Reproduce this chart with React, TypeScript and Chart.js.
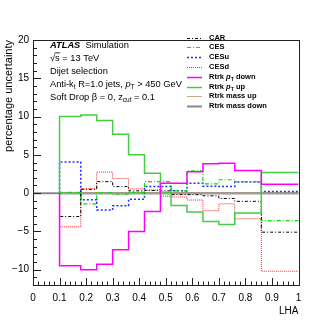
import React, { useEffect, useRef } from "react";
import { Chart, registerables } from "chart.js";
Chart.register(...registerables);

// ---- data ----
const binEdges = [0.1, 0.18, 0.24, 0.3, 0.36, 0.42, 0.48, 0.52, 0.58, 0.64, 0.7, 0.76, 0.86, 1.0];
const carValues = [-3.05, 0.5, 1.5, 0.85, 0.3, 0.35, 0.3, -0.2, -0.2, -0.35, -0.7, -1.07, -5.1];
const cesValues = [0.1, -1.4, 0.05, -0.15, 0.1, 1.5, 1.5, 0.3, 2.9, 1.2, 1.75, 1.5, -3.6];
const cesuValues = [4.05, -0.87, -2.2, -1.65, -0.8, 0.85, 0.85, 0.3, 1.3, 0.9, 0.85, 1.45, 0.2];
const cesdValues = [-4.4, 0.57, 2.75, 1.9, 0.55, 0.4, -0.4, -0.5, -0.9, -2.3, -1.4, -3.35, -10.2];
const rtrkPtDownValues = [-9.5, -10.0, -9.3, -7.4, -5.0, -2.4, 1.3, 1.3, 2.8, 3.85, 3.9, 2.95, 1.15];
const rtrkPtUpValues = [10.0, 10.2, 9.5, 7.7, 5.0, 2.6, 0.1, -1.6, -2.45, -3.7, -4.1, -2.6, 2.7];
const rtrkMassUpValues = [0, 0, 0, 0, 0, 0, 0, 0, 0, 0, 0, 0, 0];
const rtrkMassDownValues = [0, 0, 0, 0, 0, 0, 0, 0, 0, 0, 0, 0, 0];
const xTickValues = [0, 0.1, 0.2, 0.3, 0.4, 0.5, 0.6, 0.7, 0.8, 0.9, 1];
const yTickValues = [-10, -5, 0, 5, 10, 15, 20];
const xRange = [0, 1];
const yRange = [-12, 20];
const xTitle = "LHA";
const yTitle = "percentage uncertainty";

const FONT = "'Liberation Sans', Arial, Helvetica, sans-serif";

function hist(values: number[]) {
  const pts = [{ x: binEdges[0], y: 0 }];
  values.forEach((v, i) => pts.push({ x: binEdges[i], y: v }));
  pts.push({ x: binEdges[binEdges.length - 1], y: values[values.length - 1] });
  return pts;
}

type Seg = { t: string; bold?: boolean; italic?: boolean; sub?: boolean; over?: boolean };

function drawRich(ctx: CanvasRenderingContext2D, segs: Seg[], x: number, y: number, size: number, baseBold = false) {
  let cx = x;
  for (const s of segs) {
    const sz = s.sub ? size * 0.7 : size;
    const w = (s.bold ?? baseBold) ? "bold " : "";
    const it = s.italic ? "italic " : "";
    ctx.font = `${it}${w}${sz}px ${FONT}`;
    const dy = s.sub ? size * 0.35 : 0;
    ctx.fillText(s.t, cx, y + dy);
    const tw = ctx.measureText(s.t).width;
    if (s.over) {
      ctx.save();
      ctx.lineWidth = 0.8;
      ctx.strokeStyle = "#000";
      ctx.beginPath();
      ctx.moveTo(cx - 0.5, y - size * 0.55);
      ctx.lineTo(cx + tw + 0.5, y - size * 0.55);
      ctx.stroke();
      ctx.restore();
    }
    cx += tw;
  }
}

const legendItems: { segs: Seg[]; color: string; width: number; dash: number[] }[] = [
  { segs: [{ t: "CAR" }], color: "#000000", width: 1, dash: [3, 2, 1, 2] },
  { segs: [{ t: "CES" }], color: "#00dd00", width: 1.2, dash: [4, 2, 1, 2] },
  { segs: [{ t: "CESu" }], color: "#2a2aff", width: 1.5, dash: [2, 2] },
  { segs: [{ t: "CESd" }], color: "#ff2222", width: 1, dash: [1, 1] },
  { segs: [{ t: "Rtrk " }, { t: "p", italic: true }, { t: "T", sub: true }, { t: " down" }], color: "#ff00ff", width: 1.5, dash: [] },
  { segs: [{ t: "Rtrk " }, { t: "p", italic: true }, { t: "T", sub: true }, { t: " up" }], color: "#44cc44", width: 1.5, dash: [] },
  { segs: [{ t: "Rtrk mass up" }], color: "#c8a882", width: 1, dash: [] },
  { segs: [{ t: "Rtrk mass down" }], color: "#888888", width: 2, dash: [] },
];

const overlayPlugin = {
  id: "overlay",
  afterDraw(chart: any) {
    const ctx: CanvasRenderingContext2D = chart.ctx;
    const { left, right, top, bottom } = chart.chartArea;
    const xs = chart.scales.x;
    const ys = chart.scales.y;
    ctx.save();
    // frame
    ctx.strokeStyle = "#222";
    ctx.lineWidth = 1;
    ctx.strokeRect(Math.round(left) + 0.5, Math.round(top) + 0.5, Math.round(right - left), Math.round(bottom - top));
    // x ticks
    ctx.beginPath();
    for (let i = 0; i <= 50; i++) {
      const v = i * 0.02;
      const px = Math.round(xs.getPixelForValue(v)) + 0.5;
      const len = i % 5 === 0 ? 7 : 3.5;
      ctx.moveTo(px, bottom);
      ctx.lineTo(px, bottom - len);
    }
    // y ticks
    for (let v = yRange[0]; v <= yRange[1]; v++) {
      const py = Math.round(ys.getPixelForValue(v)) + 0.5;
      const len = v % 5 === 0 ? 8 : 4;
      ctx.moveTo(left, py);
      ctx.lineTo(left + len, py);
    }
    ctx.stroke();

    // axis titles
    ctx.fillStyle = "#000";
    ctx.font = `10px ${FONT}`;
    ctx.textAlign = "right";
    ctx.textBaseline = "alphabetic";
    ctx.fillText(xTitle, right, 314);
    ctx.save();
    ctx.font = `11px ${FONT}`;
    ctx.translate(12, top);
    ctx.rotate(-Math.PI / 2);
    ctx.fillText(yTitle, 0, 0);
    ctx.restore();

    // text block
    ctx.textAlign = "left";
    ctx.textBaseline = "middle";
    const tx = 50;
    const lh = 13;
    const ty = 45;
    const fs = 9.3;
    drawRich(ctx, [{ t: "ATLAS", bold: true, italic: true }, { t: "  Simulation" }], tx, ty, fs);
    drawRich(ctx, [{ t: "√" }, { t: "s", over: true }, { t: " = 13 TeV" }], tx, ty + lh, fs);
    drawRich(ctx, [{ t: "Dijet selection" }], tx, ty + 2 * lh, fs);
    drawRich(ctx, [{ t: "Anti-k" }, { t: "t", sub: true }, { t: " R=1.0 jets, " }, { t: "p", italic: true }, { t: "T", sub: true }, { t: " > 450 GeV" }], tx, ty + 3 * lh, fs);
    drawRich(ctx, [{ t: "Soft Drop β = 0, z" }, { t: "cut", sub: true }, { t: " = 0.1" }], tx, ty + 4 * lh, fs);

    // legend
    legendItems.forEach((it, i) => {
      const y = 37.5 + i * 9.8;
      ctx.save();
      ctx.strokeStyle = it.color;
      ctx.lineWidth = it.width;
      ctx.setLineDash(it.dash);
      ctx.beginPath();
      ctx.moveTo(187, Math.round(y) + 0.5);
      ctx.lineTo(202, Math.round(y) + 0.5);
      ctx.stroke();
      ctx.restore();
      ctx.fillStyle = "#000";
      drawRich(ctx, it.segs, 209, y, 7.5, true);
    });
    ctx.restore();
  },
};

export default function App() {
  const ref = useRef<HTMLCanvasElement>(null);
  useEffect(() => {
    document.body.style.margin = "0";
    const mk = (label: string, values: number[], color: string, width: number, dash: number[]) => ({
      label,
      data: hist(values),
      borderColor: color,
      borderWidth: width,
      borderDash: dash,
      stepped: "before" as const,
      pointRadius: 0,
      fill: false,
    });
    const chart = new Chart(ref.current!, {
      type: "line",
      data: {
        datasets: [
          mk("Rtrk pT down", rtrkPtDownValues, "#ff00ff", 1.5, []),
          mk("Rtrk pT up", rtrkPtUpValues, "#44cc44", 1.5, []),
          mk("CAR", carValues, "#000000", 1, [3, 2, 1, 2]),
          mk("CES", cesValues, "#00dd00", 1.2, [4, 2, 1, 2]),
          mk("CESu", cesuValues, "#2a2aff", 1.5, [2, 2]),
          mk("CESd", cesdValues, "#ff2222", 1, [1, 1]),
          mk("Rtrk mass up", rtrkMassUpValues, "#c8a882", 1, []),
          mk("Rtrk mass down", rtrkMassDownValues, "#888888", 2, []),
          {
            label: "zero",
            data: [{ x: xRange[0], y: 0 }, { x: xRange[1], y: 0 }],
            borderColor: "#888888",
            borderWidth: 2,
            pointRadius: 0,
            fill: false,
          },
        ],
      },
      options: {
        animation: false,
        responsive: false,
        events: [],
        layout: { padding: { left: 0, right: 33.5, top: 40, bottom: 0 } },
        plugins: { legend: { display: false }, tooltip: { enabled: false } },
        scales: {
          x: {
            type: "linear",
            min: xRange[0],
            max: xRange[1],
            afterBuildTicks: (s: any) => { s.ticks = xTickValues.map((v) => ({ value: v })); },
            afterFit: (s: any) => { s.height = 37; },
            grid: { display: false, drawTicks: false },
            border: { display: false },
            ticks: {
              autoSkip: false,
              maxRotation: 0,
              padding: 7,
              color: "#000",
              font: { family: FONT, size: 10 },
              callback: (v: any) => String(Math.round(Number(v) * 10) / 10),
            },
          },
          y: {
            type: "linear",
            min: yRange[0],
            max: yRange[1],
            afterBuildTicks: (s: any) => { s.ticks = yTickValues.map((v) => ({ value: v })); },
            afterFit: (s: any) => { s.width = 33; },
            grid: { display: false, drawTicks: false },
            border: { display: false },
            ticks: {
              autoSkip: false,
              padding: 4,
              color: "#000",
              font: { family: FONT, size: 10 },
              callback: (v: any) => (Number(v) < 0 ? "−" + Math.abs(Number(v)) : String(v)),
            },
          },
        },
      },
      plugins: [overlayPlugin],
    });
    return () => chart.destroy();
  }, []);
  return (
    <div style={{ position: "absolute", left: 0, top: 0, width: 332, height: 322, background: "#fff" }}>
      <canvas ref={ref} width={332} height={322} />
    </div>
  );
}
